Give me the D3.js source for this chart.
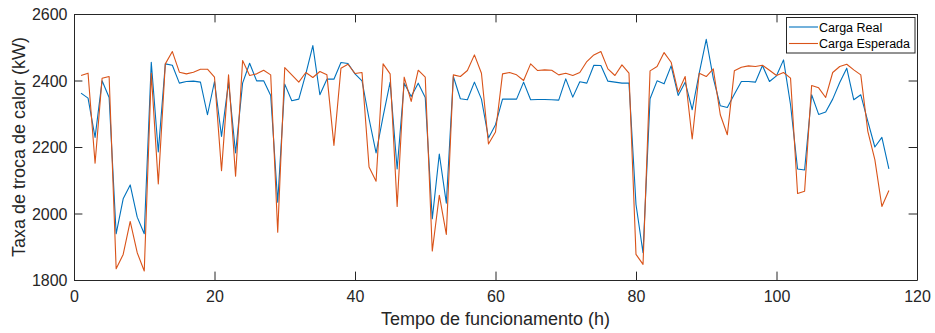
<!DOCTYPE html>
<html><head><meta charset="utf-8">
<script src="https://cdn.jsdelivr.net/npm/d3@7/dist/d3.min.js"></script>
<style>body{margin:0;background:#fff;} svg{display:block;font-family:"Liberation Sans",Arial,Helvetica,sans-serif;}</style>
</head><body>
<svg id="c" width="935" height="333"></svg>
<script>
const hours = d3.range(1, 117);
const cargaReal = [2362,2347,2229,2399,2349,1939,2044,2086,1989,1939,2455,2185,2450,2446,2392,2397,2398,2395,2297,2397,
2232,2395,2182,2392,2452,2399,2399,2355,2034,2389,2339,2344,2420,2505,2357,2404,2404,2454,2451,2420,
2399,2285,2182,2292,2395,2134,2392,2352,2392,2349,1984,2179,2031,2412,2345,2342,2395,2344,2227,2267,
2344,2344,2344,2395,2342,2343,2343,2342,2341,2405,2350,2396,2392,2446,2445,2398,2395,2392,2392,2027,
1882,2345,2399,2390,2444,2355,2395,2312,2422,2524,2407,2324,2319,2359,2397,2397,2395,2445,2397,2414,
2462,2327,2134,2131,2357,2298,2305,2344,2394,2437,2342,2357,2277,2200,2229,2134];
const cargaEsperada = [2415,2422,2151,2407,2412,1834,1877,1976,1882,1827,2422,2089,2450,2487,2425,2420,2425,2434,2434,2410,
2129,2417,2112,2460,2415,2420,2431,2417,1944,2439,2417,2395,2424,2409,2427,2417,2205,2437,2449,2421,
2424,2140,2097,2450,2420,2021,2410,2337,2431,2410,1887,2055,1937,2417,2412,2430,2477,2422,2209,2245,
2420,2424,2417,2400,2450,2430,2432,2431,2417,2422,2415,2424,2457,2477,2487,2435,2415,2447,2422,1877,
1847,2429,2442,2484,2455,2365,2412,2224,2422,2412,2435,2297,2237,2429,2440,2444,2442,2446,2431,2415,
2424,2407,2060,2067,2385,2378,2349,2424,2442,2449,2432,2417,2247,2162,2021,2069];
const xTicks = [0,20,40,60,80,100,120];
const yTicks = [1800,2000,2200,2400,2600];
const seriesNames = ["Carga Real","Carga Esperada"];
const colors = ["#0072BD","#D95319"];

const L = 74, R = 917, T = 14, B = 280;
const svg = d3.select("#c");
const x = d3.scaleLinear().domain([0,120]).range([L,R]);
const y = d3.scaleLinear().domain([1800,2600]).range([B,T]);
const axisColor = "#262626";
const tl = 8.4;

// lines
const line = d3.line().x((d,i)=>x(hours[i])).y(d=>y(d));
[cargaReal, cargaEsperada].forEach((s,k)=>{
  svg.append("path").datum(s).attr("d", line).attr("fill","none")
    .attr("stroke", colors[k]).attr("stroke-width",1.1).attr("stroke-linejoin","round");
});

// axes (inward ticks, box)
const gB = svg.append("g").attr("transform",`translate(0,${B})`)
  .call(d3.axisBottom(x).tickValues(xTicks).tickSizeInner(-tl).tickSizeOuter(0).tickPadding(10.5).tickFormat(d3.format("d")));
const gT = svg.append("g").attr("transform",`translate(0,${T})`)
  .call(d3.axisTop(x).tickValues(xTicks).tickSizeInner(-tl).tickSizeOuter(0).tickFormat(""));
const gL = svg.append("g").attr("transform",`translate(${L},0)`)
  .call(d3.axisLeft(y).tickValues(yTicks).tickSizeInner(-tl).tickSizeOuter(0).tickPadding(6.5).tickFormat(d3.format("d")));
const gR = svg.append("g").attr("transform",`translate(${R},0)`)
  .call(d3.axisRight(y).tickValues(yTicks).tickSizeInner(-tl).tickSizeOuter(0).tickFormat(""));
[gB,gT,gL,gR].forEach(g=>{
  g.select(".domain").attr("stroke",axisColor).attr("stroke-width",1);
  g.selectAll(".tick line").attr("stroke",axisColor).attr("stroke-width",1);
  g.selectAll(".tick text").attr("fill",axisColor).attr("font-size",16)
    .attr("font-family",'"Liberation Sans",Arial,sans-serif');
});
gL.selectAll(".tick text").attr("dy","0.36em");

// axis labels
svg.append("text").attr("x",(L+R)/2).attr("y",325).attr("text-anchor","middle")
  .attr("font-size",18).attr("fill",axisColor).text("Tempo de funcionamento (h)");
svg.append("text").attr("transform",`translate(25,${(T+B)/2}) rotate(-90)`).attr("text-anchor","middle")
  .attr("font-size",18).attr("fill",axisColor).text("Taxa de troca de calor (kW)");

// legend
const lg = svg.append("g");
lg.append("rect").attr("x",786.5).attr("y",17.5).attr("width",128.5).attr("height",35.5)
  .attr("fill","#fff").attr("stroke",axisColor).attr("stroke-width",1);
seriesNames.forEach((n,k)=>{
  const yy = 27 + k*16.5;
  lg.append("line").attr("x1",789).attr("x2",818).attr("y1",yy).attr("y2",yy)
    .attr("stroke",colors[k]).attr("stroke-width",1.1);
  lg.append("text").attr("x",819).attr("y",yy+4.5).attr("font-size",12.5).attr("fill","#000").text(n);
});
</script>
</body></html>
